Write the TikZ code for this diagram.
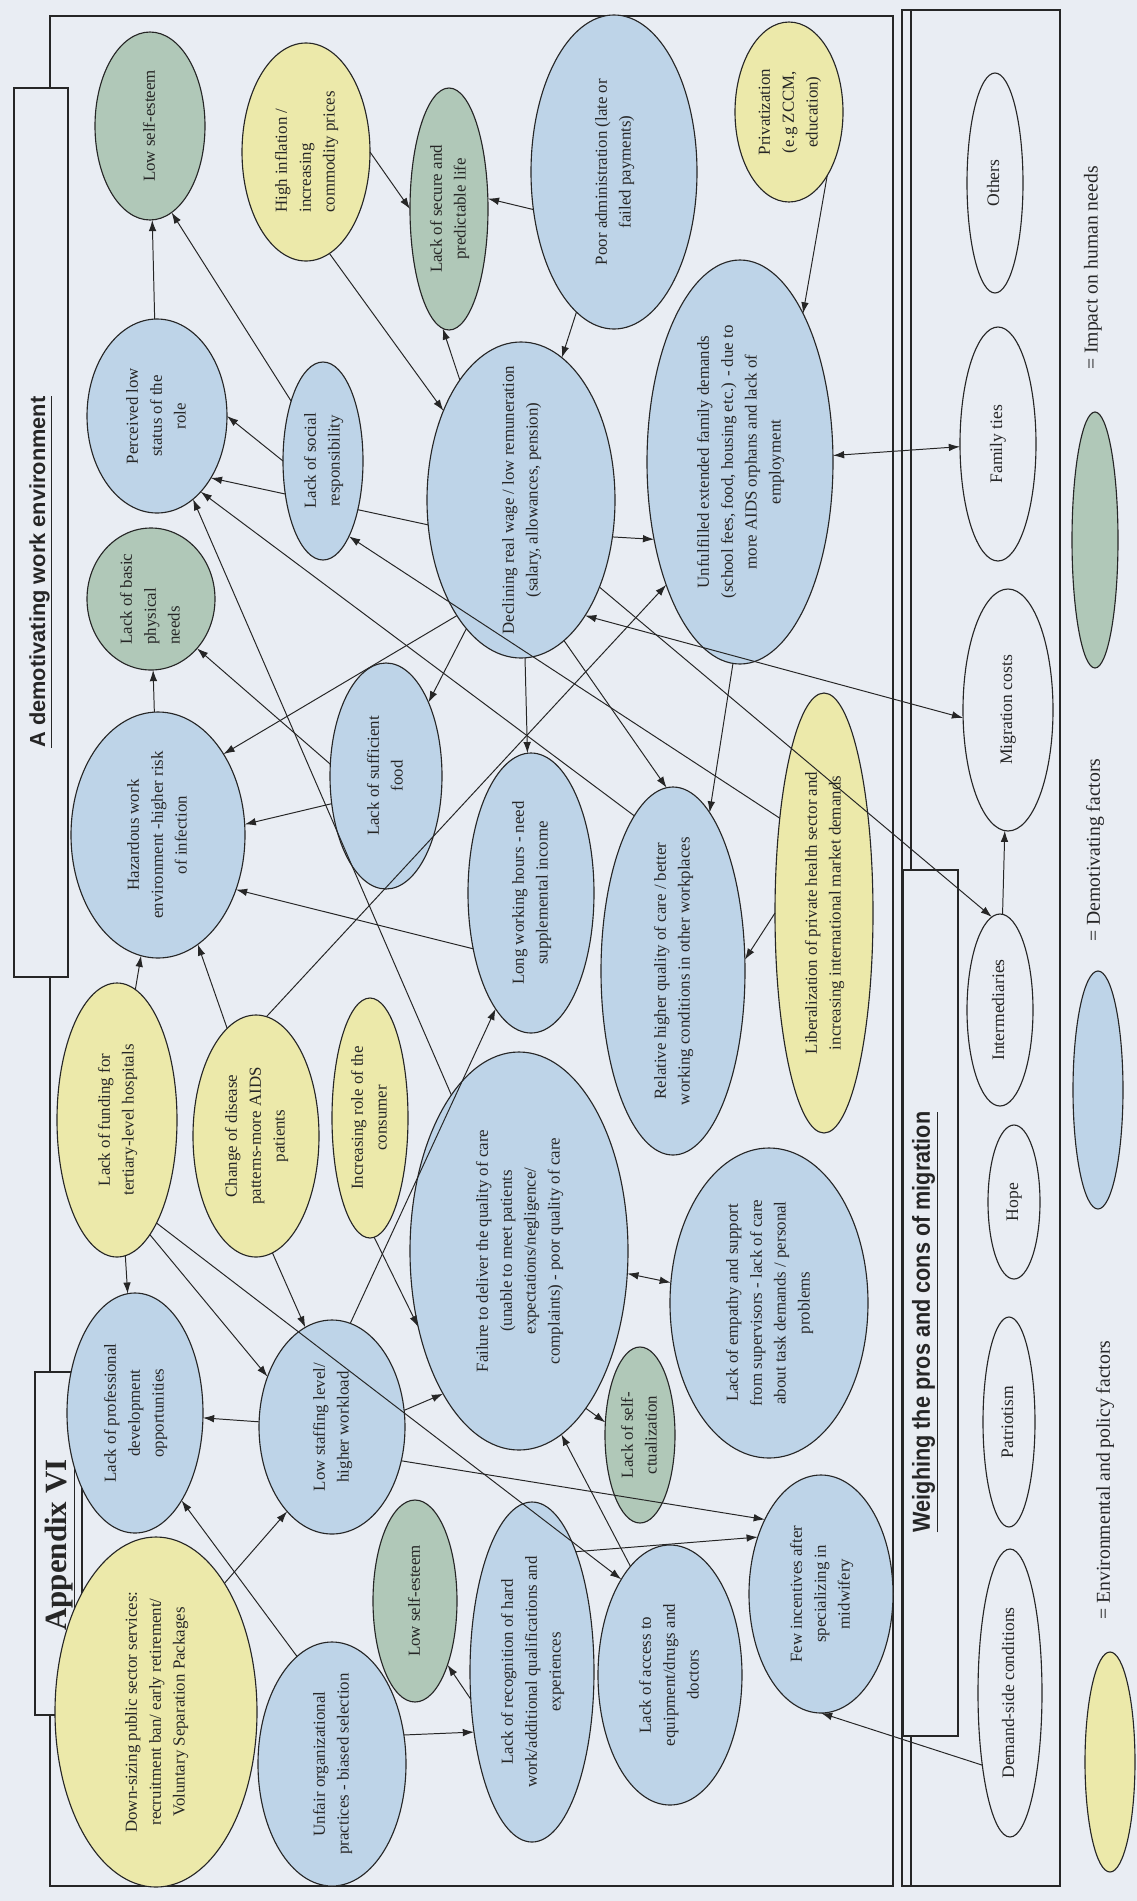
\documentclass[tikz,border=0pt]{standalone}
\usepackage{fontspec}
\setmainfont{Liberation Serif}
\setsansfont{Liberation Sans}
\newfontfamily\narrowsans[FakeStretch=0.88]{Liberation Sans}
\usepackage{graphicx}
\usetikzlibrary{positioning,arrows}
\usetikzlibrary{shapes,arrows.meta}

\definecolor{paper}{RGB}{233,237,243}
\definecolor{envyellow}{RGB}{236,233,170}
\definecolor{demoblue}{RGB}{190,212,232}
\definecolor{needgreen}{RGB}{176,200,184}

% text written upwards, taking no room in the node
\newcommand{\vlabel}[2][c]{\makebox[0pt]{\raisebox{-.5\height}[0pt][0pt]{\rotatebox{90}{\begin{tabular}{@{}#1@{}}#2\end{tabular}}}}}

\tikzstyle{oval} = [ellipse, draw=black!85, line width=0.8pt, inner sep=0pt, outer sep=0pt,
    text=black!85, font=\fontsize{12}{17}\selectfont]
\tikzstyle{envir} = [oval, fill=envyellow]
\tikzstyle{demo} = [oval, fill=demoblue]
\tikzstyle{need} = [oval, fill=needgreen]
\tikzstyle{pull} = [oval, fill=paper, font=\fontsize{12.5}{15}\selectfont]
\tikzstyle{arrow} = [-{Latex[length=2.8mm,width=1.9mm]}, line width=0.7pt]
\tikzstyle{twoway} = [{Latex[length=2.8mm,width=1.9mm]}-{Latex[length=2.8mm,width=1.9mm]}, line width=0.7pt]
\tikzstyle{frame} = [line width=0.9pt]
\tikzstyle{titlebox} = [line width=0.9pt, fill=paper]
\tikzstyle{keytext} = [rotate=90, font=\fontsize{14}{16}\selectfont]
\tikzset{radii/.style 2 args={minimum width=#1*0.5mm, minimum height=#2*0.5mm}}

\begin{document}
\begin{tikzpicture}[%
x=0.25mm, y=-0.25mm,
black!85,
text=black!85,
]
\useasboundingbox (0,0) rectangle (1137,1901);
\fill[paper] (0,0) rectangle (1137,1901);

% frames
\draw[frame] (50,16) rectangle (893,1886);
\draw[frame] (902,10) rectangle (1060,1886);
\draw[frame] (911,10) -- (911,870) (911,1736) -- (911,1886);
\draw[titlebox] (14,88) rectangle (68,977);
\draw[titlebox] (35,1372) rectangle (82,1715);
\draw[titlebox] (903,870) rectangle (958,1736);
\node[rotate=90, font=\sffamily\bfseries\fontsize{15.5}{18}\selectfont] (demotitle) at (41,572) {\underline{A demotivating work environment}};
\node[rotate=90, font=\bfseries\fontsize{22}{26}\selectfont] (apptitle) at (60,1545) {\underline{Appendix VI}};
\node[rotate=90, font=\narrowsans\bfseries\fontsize{17.5}{20}\selectfont] (migtitle) at (925,1322) {\underline{Weighing the pros and cons of migration}};

% demotivating work environment
\node[need, radii={55}{94}] (lse1) at (150,126) {\vlabel{Low self-esteem}};
\node[envir, radii={64}{109}] (infl) at (306,152) {\vlabel[l]{High inflation /\\ increasing\\ commodity prices}};
\node[need, radii={39}{121}] (secure) at (449,209) {\vlabel{Lack of secure and\\ predictable life}};
\node[demo, radii={83}{157}] (admin) at (614,172) {\vlabel{Poor administration (late or\\ failed payments)}};
\node[envir, radii={54}{90}] (priv) at (789,112) {\vlabel{Privatization\\ (e.g ZCCM,\\ education)}};
\node[demo, radii={70}{97}] (status) at (157,416) {\vlabel{Perceived low\\ status of the\\ role}};
\node[demo, radii={94}{158}] (wage) at (521,500) {\vlabel{Declining real wage / low remuneration\\ (salary, allowances, pension)}};
\node[demo, radii={93}{202}] (family) at (740,462) {\vlabel{Unfulfilled extended family demands\\ (school fees, food, housing etc.) - due to\\ more AIDS orphans and lack of\\ employment}};
\node[need, radii={64}{71}] (basic) at (151,599) {\vlabel[l]{Lack of basic\\ physical\\ needs}};
\node[demo, radii={56}{113}] (food) at (386,776) {\vlabel{Lack of sufficient\\ food}};
\node[demo, radii={87}{123}] (hazard) at (158,835) {\vlabel{Hazardous work\\ environment -higher risk\\ of infection}};
\node[demo, radii={63}{140}] (hours) at (531,893) {\vlabel{Long working hours - need\\ supplemental income}};
\node[demo, radii={72}{184}] (better) at (673,971) {\vlabel{Relative higher quality of care / better\\ working conditions in other workplaces}};
\node[envir, radii={49}{220}] (liberal) at (824,913) {\vlabel{Liberalization of  private health sector and\\ increasing international market demands}};
\node[envir, radii={60}{137}] (funding) at (117,1120) {\vlabel{Lack of funding for\\ tertiary-level hospitals}};
\node[envir, radii={63}{121}] (disease) at (256,1136) {\vlabel{Change of disease\\ patterns-more AIDS\\ patients}};
\node[envir, radii={38}{120}] (consumer) at (370,1118) {\vlabel{Increasing role of the\\ consumer}};
\node[demo, radii={109}{199}] (failure) at (519,1251) {\vlabel{Failure to deliver the quality of care\\ (unable to meet patients\\ expectations/negligence/\\ complaints) - poor quality of  care}};
\node[demo, radii={99}{155}] (empathy) at (769,1303) {\vlabel{Lack of empathy and support\\ from supervisors - lack of care\\ about task demands / personal\\ problems}};
\node[demo, radii={68}{120}] (profdev) at (135,1413) {\vlabel{Lack of professional\\ development\\ opportunities}};
\node[demo, radii={73}{107}] (staffing) at (332,1427) {\vlabel{Low staffing level/\\ higher workload}};
\node[need, radii={35}{88}] (selfact) at (640,1435) {\vlabel{Lack of self-\\ ctualization}};
\node[envir, radii={101}{175}] (downsize) at (156,1712) {\vlabel{Down-sizing public sector services:\\ recruitment ban/ early retirement/\\ Voluntary Separation Packages}};
\node[demo, radii={74}{122}] (unfair) at (332,1764) {\vlabel{Unfair organizational\\ practices - biased selection}};
\node[need, radii={42}{101}] (lse2) at (415,1601) {\vlabel{Low self-esteem}};
\node[demo, radii={62}{170}] (recog) at (532,1672) {\vlabel{Lack of recognition of hard\\ work/additional qualifications and\\ experiences}};
\node[demo, radii={72}{130}] (access) at (670,1675) {\vlabel{Lack of access to\\ equipment/drugs and\\ doctors}};
\node[demo, radii={72}{119}] (incent) at (821,1594) {\vlabel{Few incentives after\\ specializing in\\ midwifery}};

% this one runs behind "Lack of social responsibility"
\draw[arrow] (wage.195) -- (status.-49);
\node[demo, radii={40}{99}] (social) at (323,461) {\vlabel{Lack of social\\ responsibility}};

% weighing the pros and cons
\node[pull, radii={28}{110}] (others) at (995,183) {\vlabel{Others}};
\node[pull, radii={38}{117}] (ties) at (998,444) {\vlabel{Family ties}};
\node[pull, radii={45}{121}] (mcost) at (1008,710) {\vlabel{Migration costs}};
\node[pull, radii={33}{96}] (inter) at (1000,1010) {\vlabel{Intermediaries}};
\node[pull, radii={26}{77}] (hope) at (1014,1202) {\vlabel{Hope}};
\node[pull, radii={26}{105}] (patri) at (1009,1422) {\vlabel{Patriotism}};
\node[pull, radii={32}{144}] (demand) at (1010,1693) {\vlabel{Demand-side conditions}};

% key
\node[need, radii={23}{128}] (keyneed) at (1095,540) {};
\node[keytext] (keyneedtxt) at (1093,268) {= Impact on human needs};
\node[demo, radii={25}{119}] (keydemo) at (1098,1090) {};
\node[keytext] (keydemotxt) at (1095,850) {= Demotivating factors};
\node[envir, radii={25}{110}] (keyenv) at (1110,1762) {};
\node[keytext] (keyenvtxt) at (1105,1480) {= Environmental and policy factors};

% links
\draw[arrow] (status) -- (lse1);
\draw[arrow] (social.118) -- (lse1.-76);
\draw[arrow] (social.west) -- (status.east);
\draw[arrow] (better.104) -- (status.-60);
\draw[arrow] (failure) -- (status);
\draw[arrow] (infl.east) -- (secure.west);
\draw[arrow] (infl.-77) -- (wage.131);
\draw[arrow] (admin.-155) -- (secure.15);
\draw[arrow] (admin.-105) -- (wage.74);
\draw[arrow] (wage.117) -- (secure.-93);
\draw[arrow] (priv.-59) -- (family.67);
\draw[arrow] (wage.-22) -- (family.-138);
\draw[twoway] (family) -- (ties);
\draw[twoway] (wage.-61) -- (mcost.-170);
\draw[arrow] (wage.-48) -- (inter.95);
\draw[arrow] (inter) -- (mcost);
\draw[arrow] (wage.-113) -- (food.60);
\draw[arrow] (wage.-119) -- (hazard.51);
\draw[arrow] (food.-153) -- (hazard.7);
\draw[arrow] (food.168) -- (basic.-47);
\draw[arrow] (hazard) -- (basic);
\draw[arrow] (hours.-136) -- (hazard.-35);
\draw[arrow] (funding.82) -- (hazard.-98);
\draw[arrow] (disease.105) -- (hazard.-70);
\draw[arrow] (disease.85) -- (family.-121);
\draw[arrow] (funding) -- (profdev);
\draw[arrow] (funding.-74) -- (staffing.142);
\draw[arrow] (funding.-69) -- (access.117);
\draw[arrow] (disease.-82) -- (staffing.105);
\draw[arrow] (consumer.-88) -- (failure.-143);
\draw[arrow] (staffing) -- (profdev);
\draw[arrow] (staffing.80) -- (hours.-107);
\draw[arrow] (staffing.13) -- (failure.-118);
\draw[arrow] (staffing.-26) -- (incent.127);
\draw[twoway] (failure) -- (empathy);
\draw[arrow] (failure.-67) -- (selfact.160);
\draw[arrow] (access.110) -- (failure.-77);
\draw[arrow] (unfair.108) -- (profdev.-62);
\draw[arrow] (downsize.62) -- (staffing.-118);
\draw[arrow] (unfair.22) -- (recog.-134);
\draw[arrow] (recog.-156) -- (lse2.-63);
\draw[arrow] (recog.70) -- (incent.138);
\draw[arrow] (demand.-111) -- (incent.-90);
\draw[arrow] (liberal.180) -- (better.9);
\draw[arrow] (liberal.115) -- (social.-71);
\draw[arrow] (wage) -- (hours);
\draw[arrow] (wage.-73) -- (better.92);
\draw[arrow] (family.-92) -- (better.77);

\end{tikzpicture}
\end{document}
